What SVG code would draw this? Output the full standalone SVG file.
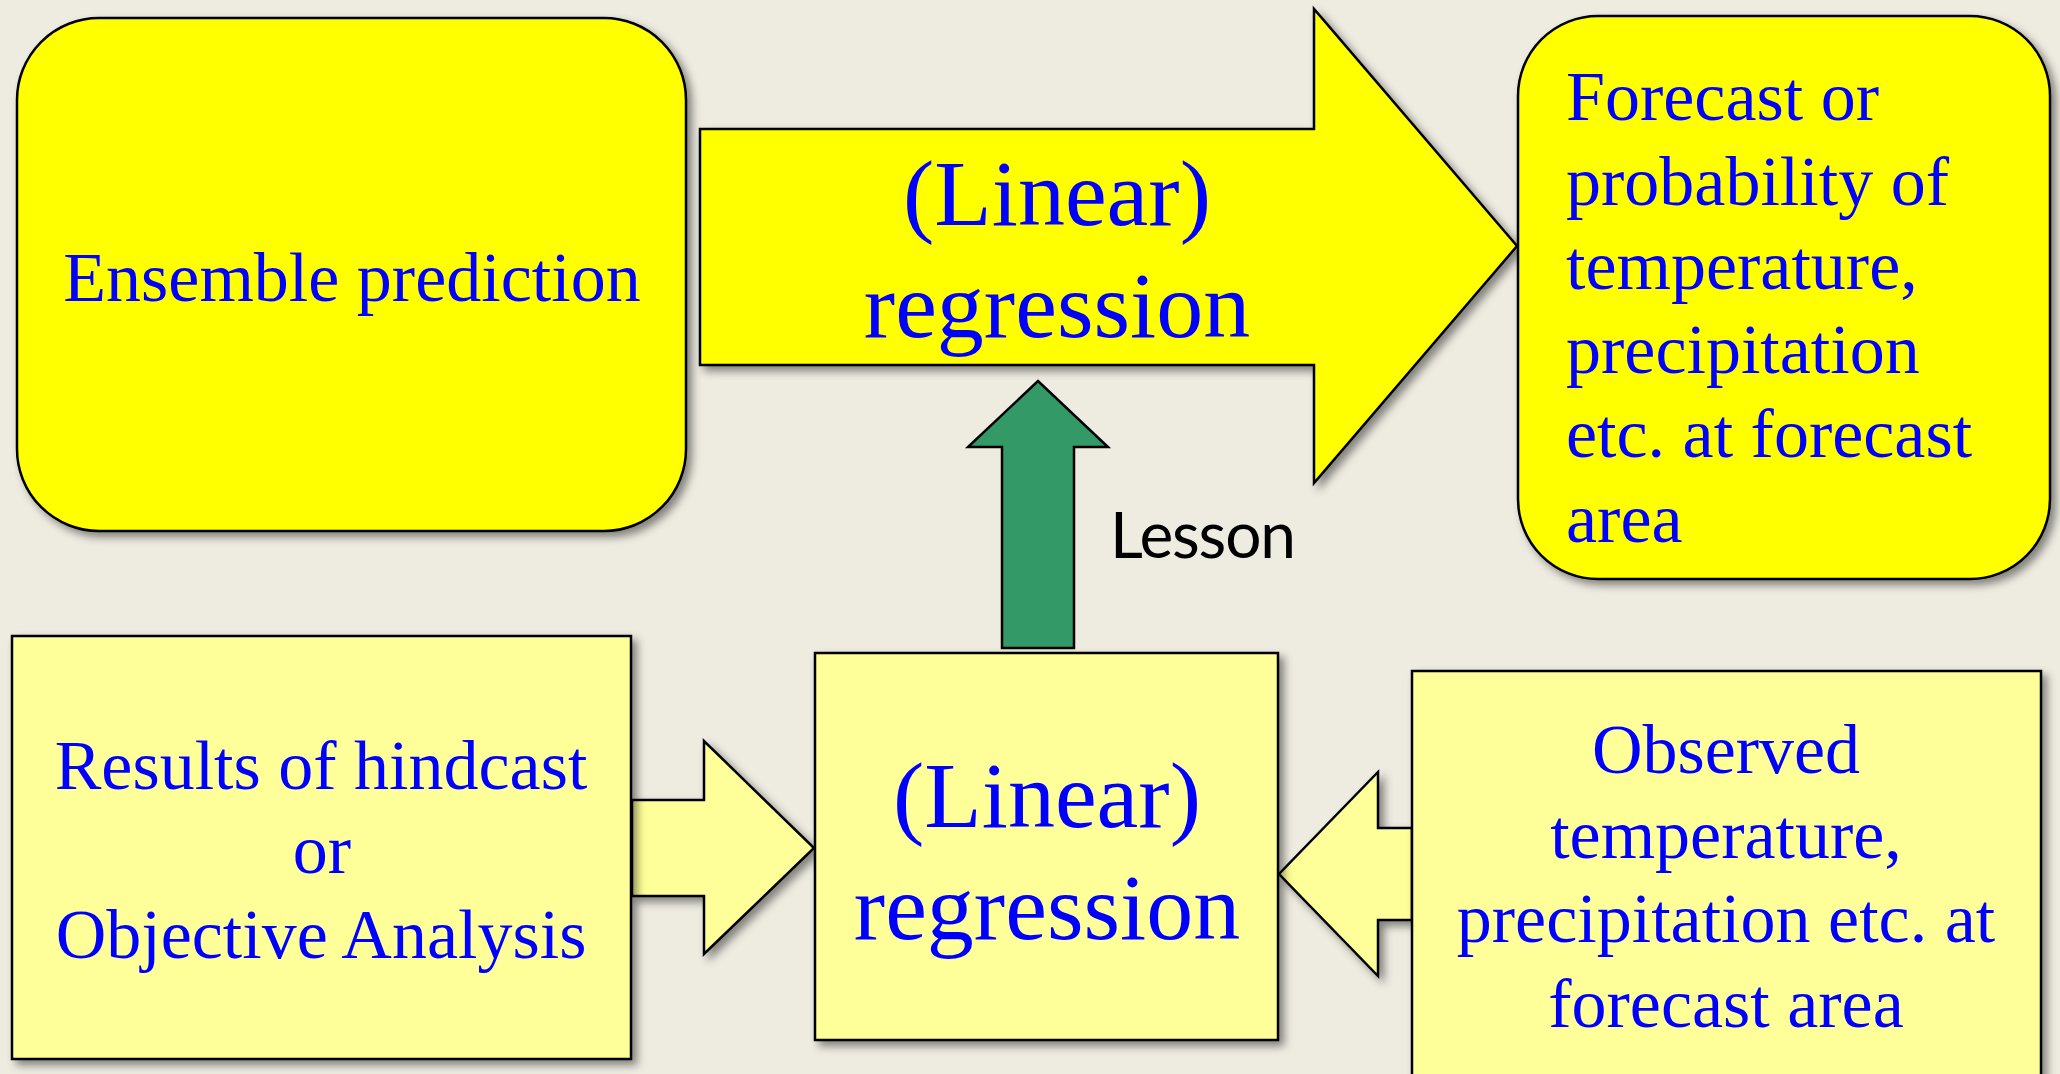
<svg xmlns="http://www.w3.org/2000/svg" width="2060" height="1074" viewBox="0 0 2060 1074">
  <defs>
    <filter id="sh" x="-10%" y="-10%" width="130%" height="130%">
      <feDropShadow dx="5" dy="5" stdDeviation="4" flood-color="#000" flood-opacity="0.45"/>
    </filter>
  </defs>
  <style>
    .bright { fill: #FFFF00; stroke: #000; stroke-width: 2.5; }
    .pale { fill: #FFFF99; stroke: #000; stroke-width: 2.5; }
    .green { fill: #339966; stroke: #000; stroke-width: 2.5; }
    .t { font-family: "Liberation Serif", "Times New Roman", serif; fill: #0000FF; }
    .s70 { font-size: 70px; }
    .s94 { font-size: 94px; }
    .mid { text-anchor: middle; }
    .lesson { font-family: Lato, "Liberation Sans", Arial, sans-serif; font-size: 64px; fill: #000; }
  </style>
  <rect x="0" y="0" width="2060" height="1074" fill="#EEECE1"/>

  <g id="connectors">
    <path id="arrow-hindcast" class="pale" filter="url(#sh)" d="M632,800 H704 V741 L814,848 L704,954 V896 H632 Z"/>
    <path id="arrow-observed" class="pale" filter="url(#sh)" d="M1412,828 H1378 V772 L1279,874 L1378,976 V920 H1412 Z"/>
    <path id="arrow-lesson" class="green" d="M1002,648 V447 H968 L1038,381 L1108,447 H1074 V648 Z"/>
    <text class="lesson" x="1110" y="558" textLength="186">Lesson</text>
  </g>

  <g id="ensemble">
    <rect class="bright" filter="url(#sh)" x="17" y="18" width="669" height="513" rx="82" ry="82"/>
    <text class="t s70 mid" x="352" y="301">Ensemble prediction</text>
  </g>

  <g id="regression-arrow">
    <path class="bright" filter="url(#sh)" d="M700,129 H1314 V9 L1517,246 L1314,483 V365 H700 Z"/>
    <text class="t s94 mid" x="1057" y="225">(Linear)</text>
    <text class="t s94 mid" x="1057" y="337">regression</text>
  </g>

  <g id="forecast">
    <rect class="bright" filter="url(#sh)" x="1518" y="16" width="532" height="563" rx="80" ry="80"/>
    <text class="t s70" x="1566" y="120">Forecast or</text>
    <text class="t s70" x="1566" y="205">probability of</text>
    <text class="t s70" x="1566" y="289">temperature,</text>
    <text class="t s70" x="1566" y="373">precipitation</text>
    <text class="t s70" x="1566" y="457">etc. at forecast</text>
    <text class="t s70" x="1566" y="542">area</text>
  </g>

  <g id="hindcast">
    <rect class="pale" filter="url(#sh)" x="12" y="636" width="619" height="423"/>
    <text class="t s70 mid" x="321" y="789">Results of hindcast</text>
    <text class="t s70 mid" x="322" y="873">or</text>
    <text class="t s70 mid" x="321" y="958">Objective Analysis</text>
  </g>

  <g id="regression-box">
    <rect class="pale" filter="url(#sh)" x="815" y="653" width="463" height="387"/>
    <text class="t s94 mid" x="1047" y="827">(Linear)</text>
    <text class="t s94 mid" x="1047" y="939">regression</text>
  </g>

  <g id="observed">
    <rect class="pale" filter="url(#sh)" x="1412" y="671" width="629" height="440"/>
    <text class="t s70 mid" x="1726" y="773">Observed</text>
    <text class="t s70 mid" x="1726" y="858">temperature,</text>
    <text class="t s70 mid" x="1726" y="942">precipitation etc. at</text>
    <text class="t s70 mid" x="1726" y="1027">forecast area</text>
  </g>
</svg>
